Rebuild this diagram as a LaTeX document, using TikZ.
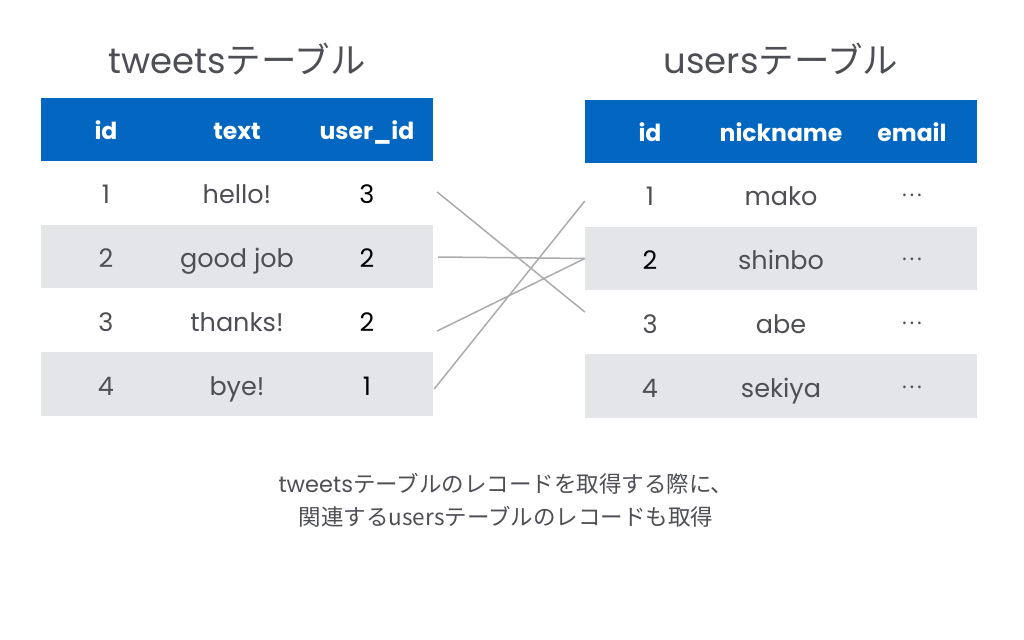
\documentclass[tikz,border=0pt]{standalone}
\usepackage{fontspec}
\setmainfont{Poppins}
\newfontfamily\jp{Noto Sans CJK JP}
\usetikzlibrary{calc}
\definecolor{hdrblue}{HTML}{0366C1}
\definecolor{rowgrey}{HTML}{E4E5E9}
\definecolor{txtgrey}{HTML}{4E4F55}
\definecolor{linkgrey}{HTML}{ABABAB}
\tikzset{
  band/.style={draw=none, inner sep=0pt, minimum width=392pt, minimum height=63.5pt},
  hdrband/.style={band, fill=hdrblue},
  greyband/.style={band, fill=rowgrey},
  whiteband/.style={band, fill=white},
  hdrtext/.style={anchor=base, text=white, font=\fontsize{23.5}{28}\selectfont\bfseries, inner sep=0pt},
  celltext/.style={anchor=base, text=txtgrey, font=\fontsize{25.5}{30}\selectfont, inner sep=0pt},
  keytext/.style={celltext, text=black},
  dotstext/.style={anchor=center, text=txtgrey, font=\fontsize{20}{24}\jp, inner sep=0pt},
  title/.style={anchor=base, text=txtgrey, font=\fontsize{35.5}{40}\selectfont, inner sep=0pt},
  caption/.style={anchor=base, text=txtgrey, font=\fontsize{22.5}{33}\selectfont, align=center, inner sep=0pt},
  link/.style={draw=linkgrey, line width=1.5pt}
}
\begin{document}
\begin{tikzpicture}[x=1pt,y=-1pt]
\useasboundingbox (0,0) rectangle (1024,639);
% titles
\node[title] (ttitle) at (237,74) {tweets\jp{テーブル}};
\node[title] (utitle) at (781,74) {users\jp{テーブル}};
% tweets table
\node[hdrband] (th) at (237,129.5) {};
\node[whiteband] (t1) at (237,192.5) {};
\node[greyband] (t2) at (237,256.5) {};
\node[whiteband] (t3) at (237,320.5) {};
\node[greyband] (t4) at (237,384) {};
\node[hdrtext] (thid) at (106,139.5) {id};
\node[hdrtext] (thtext) at (237,139.5) {text};
\node[hdrtext] (thuid) at (367,139.5) {user\_id};
\node[celltext] (t1id) at (106,203.5) {1};
\node[celltext] (t1tx) at (237,203.5) {hello!};
\node[keytext] (t1u) at (367,203.5) {3};
\node[celltext] (t2id) at (106,267.5) {2};
\node[celltext] (t2tx) at (237,267.5) {good job};
\node[keytext] (t2u) at (367,267.5) {2};
\node[celltext] (t3id) at (106,331.5) {3};
\node[celltext] (t3tx) at (237,331.5) {thanks!};
\node[keytext] (t3u) at (367,331.5) {2};
\node[celltext] (t4id) at (106,395) {4};
\node[celltext] (t4tx) at (237,395) {bye!};
\node[keytext] (t4u) at (367,395) {1};
% users table
\node[hdrband] (uh) at (781,131.5) {};
\node[whiteband] (u1) at (781,194.5) {};
\node[greyband] (u2) at (781,258.5) {};
\node[whiteband] (u3) at (781,322) {};
\node[greyband] (u4) at (781,386) {};
\node[hdrtext] (uhid) at (650,141.5) {id};
\node[hdrtext] (uhnick) at (781,141.5) {nickname};
\node[hdrtext] (uhmail) at (912,141.5) {email};
\node[celltext] (u1id) at (650,205.5) {1};
\node[celltext] (u1n) at (781,205.5) {mako};
\node[dotstext] (u1m) at (912,195.5) {…};
\node[keytext] (u2id) at (650,269.5) {2};
\node[celltext] (u2n) at (781,269.5) {shinbo};
\node[dotstext] (u2m) at (912,259.5) {…};
\node[celltext] (u3id) at (650,333) {3};
\node[celltext] (u3n) at (781,333) {abe};
\node[dotstext] (u3m) at (912,323) {…};
\node[celltext] (u4id) at (650,397) {4};
\node[celltext] (u4n) at (781,397) {sekiya};
\node[dotstext] (u4m) at (912,387) {…};
% links
\draw[link] ($(t1.east)+(4,-0.5)$) -- ($(u3.west)+(0,-10)$);
\draw[link] ($(t2.east)+(5,0.5)$) -- (u2.west);
\draw[link] ($(t3.east)+(4,10.5)$) -- (u2.west);
\draw[link] ($(t4.east)+(1,5)$) -- ($(u1.west)+(0,6.5)$);
% caption
\node[caption] (cap) at (506,525) {tweets\jp{テーブルのレコードを取得する際に、}\\ \jp{関連する}users\jp{テーブルのレコードも取得}};
\end{tikzpicture}
\end{document}
